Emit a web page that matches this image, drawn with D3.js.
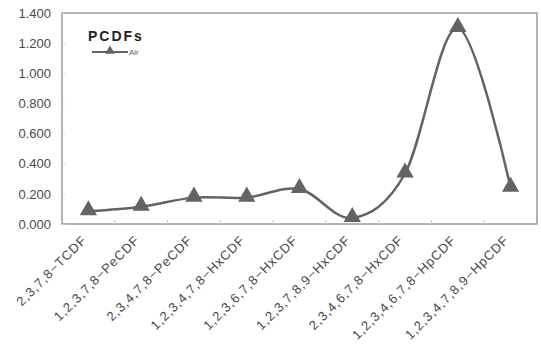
<!DOCTYPE html>
<html>
<head>
<meta charset="utf-8">
<script src="https://cdn.jsdelivr.net/npm/d3@7"></script>
<style>
  html, body { margin: 0; padding: 0; background: #fff; }
  svg { display: block; font-family: "Liberation Sans", Arial, sans-serif; }
</style>
</head>
<body>
<svg id="chart" width="541" height="350"></svg>
<script>
// PCDF congeners and measured concentrations in air
const categories = [
  "2,3,7,8\u2212TCDF",
  "1,2,3,7,8\u2212PeCDF",
  "2,3,4,7,8\u2212PeCDF",
  "1,2,3,4,7,8\u2212HxCDF",
  "1,2,3,6,7,8\u2212HxCDF",
  "1,2,3,7,8,9\u2212HxCDF",
  "2,3,4,6,7,8\u2212HxCDF",
  "1,2,3,4,6,7,8\u2212HpCDF",
  "1,2,3,4,7,8,9\u2212HpCDF"
];
const airValues = [0.085, 0.115, 0.175, 0.175, 0.232, 0.040, 0.335, 1.300, 0.240];
const yTicks = [0, 0.2, 0.4, 0.6, 0.8, 1.0, 1.2, 1.4];
const seriesName = "Air";
const chartTitle = "PCDFs";

const svg = d3.select("#chart");
const margin = { left: 62, right: 4, top: 13, bottom: 126 };
const W = 541, H = 350;
const plotW = W - margin.left - margin.right;
const plotH = H - margin.top - margin.bottom;

const x = d3.scaleBand().domain(categories).range([0, plotW]);
const y = d3.scaleLinear().domain([0, 1.4]).range([plotH, 0]);

const g = svg.append("g").attr("transform", `translate(${margin.left},${margin.top})`);

const lineColor = "#636363";
const textColor = "#4a4a4a";

// plot frame
g.append("rect")
  .attr("x", 0).attr("y", 0)
  .attr("width", plotW).attr("height", plotH)
  .attr("fill", "none")
  .attr("stroke", "#9a9a9a")
  .attr("stroke-width", 1.5);

// y axis: inside ticks, labels to the left
const yAxis = d3.axisLeft(y).tickValues(yTicks).tickSize(-3).tickPadding(11)
  .tickFormat(d3.format(".3f"));
const yG = g.append("g").call(yAxis);
yG.select(".domain").remove();
yG.selectAll(".tick line").attr("stroke", "#d0d0d0");
yG.selectAll(".tick text")
  .attr("fill", textColor)
  .style("font-size", "13px");

// x axis: tick marks on category boundaries, rotated labels
const bounds = d3.range(1, categories.length).map(i => i * x.step());
g.append("g").selectAll("line").data(bounds).join("line")
  .attr("x1", d => d).attr("x2", d => d)
  .attr("y1", plotH).attr("y2", plotH - 4)
  .attr("stroke", "#c8c8c8");

g.append("g").selectAll("text").data(categories).join("text")
  .attr("transform", d => `translate(${x(d) + x.bandwidth() / 2 - 1},${plotH + 17}) rotate(-45)`)
  .attr("text-anchor", "end")
  .attr("fill", textColor)
  .style("font-size", "13px")
  .style("letter-spacing", "0.9px")
  .text(d => d);

// smoothed series line
const cx = d => x(d) + x.bandwidth() / 2;
const line = d3.line()
  .x((d, i) => cx(categories[i]))
  .y(d => y(d))
  .curve(d3.curveCardinal.tension(0));

g.append("path")
  .datum(airValues)
  .attr("d", line)
  .attr("fill", "none")
  .attr("stroke", lineColor)
  .attr("stroke-width", 2.5);

// triangle markers
const tri = d3.symbol().type(d3.symbolTriangle).size(130);
g.append("g").selectAll("path").data(airValues).join("path")
  .attr("d", tri)
  .attr("transform", (d, i) => `translate(${cx(categories[i])},${y(d) - 1})`)
  .attr("fill", lineColor);

// legend
const lg = svg.append("g").attr("transform", "translate(88,0)");
lg.append("text")
  .attr("x", 0).attr("y", 41)
  .attr("fill", "#222")
  .style("font-size", "14px")
  .style("font-weight", "bold")
  .style("letter-spacing", "2px")
  .text(chartTitle);
lg.append("line")
  .attr("x1", 4).attr("x2", 40).attr("y1", 52).attr("y2", 52)
  .attr("stroke", lineColor).attr("stroke-width", 2);
lg.append("path")
  .attr("d", d3.symbol().type(d3.symbolTriangle).size(40))
  .attr("transform", "translate(22,51)")
  .attr("fill", lineColor);
lg.append("text")
  .attr("x", 41).attr("y", 55)
  .attr("fill", "#666")
  .style("font-size", "8px")
  .text(seriesName);
</script>
</body>
</html>
